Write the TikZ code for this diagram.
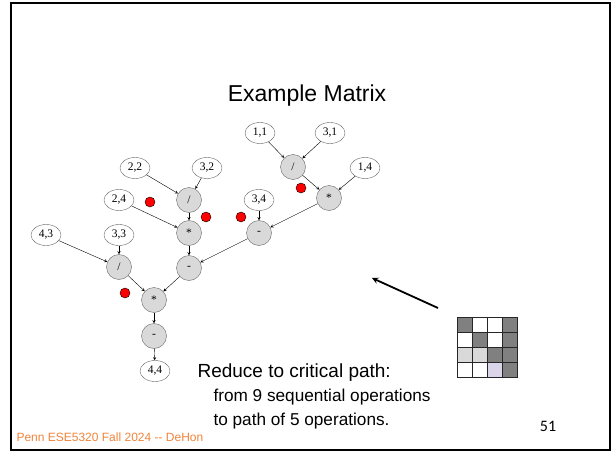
\documentclass[tikz,border=0pt]{standalone}
\usepackage{fontspec}
\setmainfont{Liberation Sans}
\newfontfamily\nodefont{Liberation Serif}
\newfontfamily\numfont{Carlito}
\usetikzlibrary{shapes.geometric}
\definecolor{dk}{RGB}{128,128,128}
\definecolor{wh}{RGB}{255,255,255}
\definecolor{lt}{RGB}{217,217,217}
\definecolor{lv}{RGB}{218,213,233}
\definecolor{footer}{RGB}{240,132,60}

\begin{document}
\begin{tikzpicture}[x=1pt, y=-1pt, >=stealth,
  leaf node/.style={ellipse, draw=gray!80!black, fill=white, minimum width=30pt, minimum height=21pt, inner sep=0pt, font=\nodefont\fontsize{11.5}{12}\selectfont},
  op node/.style={circle, draw=gray!80!black, fill=lt, minimum size=25pt, inner sep=0pt, font=\nodefont\fontsize{11.5}{12}\selectfont},
  red dot/.style={circle, draw=black, fill=red, minimum size=10pt, inner sep=0pt}]
  \fill[white] (0,0) rectangle (612,452);
  \useasboundingbox (0,0) rectangle (612,452);
  \draw[line width=2.5pt] (11,3) rectangle (610,450);

  \node[anchor=base, font=\fontsize{23}{28}\selectfont] (title) at (307,101) {Example Matrix};

  % matrix entries
  \node[leaf node] (e11) at (260,133) {1,1};
  \node[leaf node] (e31) at (330,133) {3,1};
  \node[leaf node] (e14) at (365,168) {1,4};
  \node[leaf node] (e22) at (135,168) {2,2};
  \node[leaf node] (e32) at (207,168) {3,2};
  \node[leaf node] (e24) at (119,200) {2,4};
  \node[leaf node] (e34) at (259,200) {3,4};
  \node[leaf node] (e43) at (46,235) {4,3};
  \node[leaf node] (e33) at (119,235) {3,3};
  \node[leaf node] (e44) at (155,371) {4,4};

  % operations
  \node[op node] (div1) at (293,167) {/};
  \node[op node] (mul1) at (329,198) {*};
  \node[op node] (sub1) at (259,233) {-};
  \node[op node] (div2) at (189,200) {/};
  \node[op node] (mul2) at (189,233) {*};
  \node[op node] (sub2) at (189,268) {-};
  \node[op node] (div3) at (119,267) {/};
  \node[op node] (mul3) at (154,300) {*};
  \node[op node] (sub3) at (154,336) {-};

  \node[red dot] (r1) at (301,188) {};
  \node[red dot] (r2) at (150,202) {};
  \node[red dot] (r3) at (206,217) {};
  \node[red dot] (r4) at (241,217) {};
  \node[red dot] (r5) at (125,293) {};

  \draw[->] (e11) -- (div1);
  \draw[->] (e31) -- (div1);
  \draw[->] (div1) -- (mul1);
  \draw[->] (e14) -- (mul1);
  \draw[->] (mul1) -- (sub1);
  \draw[->] (e34) -- (sub1);

  \draw[->] (e22) -- (div2);
  \draw[->] (e32) -- (div2);
  \draw[->] (div2) -- (mul2);
  \draw[->] (e24) -- (mul2);
  \draw[->] (mul2) -- (sub2);
  \draw[->] (sub1) -- (sub2);

  \draw[->] (e43) -- (div3);
  \draw[->] (e33) -- (div3);
  \draw[->] (div3) -- (mul3);
  \draw[->] (sub2) -- (mul3);
  \draw[->] (mul3) -- (sub3);
  \draw[->] (sub3) -- (e44);

  % matrix icon
  \foreach \c [count=\i from 0] in {dk,wh,wh,dk, wh,dk,wh,dk, lt,lt,dk,dk, wh,wh,lv,dk} {
    \pgfmathtruncatemacro{\col}{mod(\i,4)}
    \pgfmathtruncatemacro{\row}{int(\i/4)}
    \filldraw[fill=\c, draw=black!85] (457+15*\col,317+15*\row) rectangle +(15,15);
  }
  \coordinate (icon) at (438,308);
  \coordinate (spot) at (372,278);
  \draw[->, line width=1.8pt] (icon) -- (spot);

  \node[anchor=base west, font=\fontsize{19}{22}\selectfont] (t1) at (194,377) {Reduce to critical path:};
  \node[anchor=base west, font=\fontsize{17.2}{20}\selectfont] (t2) at (210,401) {from 9 sequential operations};
  \node[anchor=base west, font=\fontsize{17.2}{20}\selectfont] (t3) at (210,425) {to path of 5 operations.};

  \node[anchor=base west, text=footer, font=\fontsize{12}{14}\selectfont] (foot) at (13,441) {Penn ESE5320 Fall 2024 {-}{-} DeHon};
  \node[anchor=base, font=\numfont\fontsize{16}{18}\selectfont] (num) at (548,431) {51};
\end{tikzpicture}
\end{document}
